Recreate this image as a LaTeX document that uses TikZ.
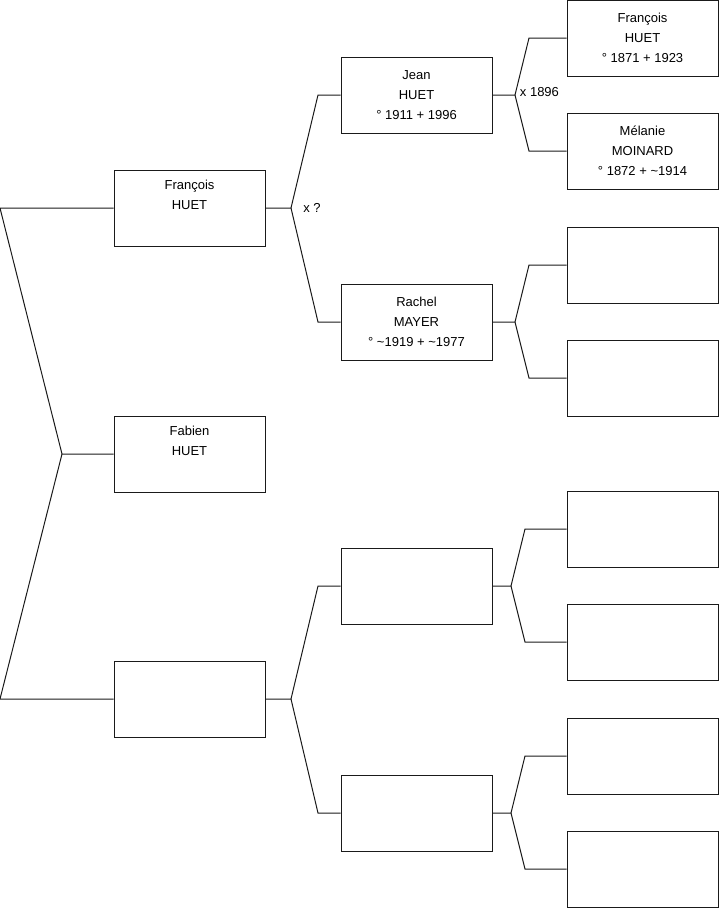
\documentclass[tikz,border=0pt]{standalone}
\usepackage{fontspec}
\setmainfont{Liberation Sans}
\usetikzlibrary{positioning}
\definecolor{TreeLine}{HTML}{1A1A1A}

\begin{document}
\begin{tikzpicture}[
  x=0.75pt,y=-0.75pt,
  person/.style={draw=TreeLine,line width=0.75pt,minimum width=113.25pt,
                 minimum height=57pt,inner sep=0pt,align=center,
                 font=\fontsize{9.75}{15}\selectfont},
  link/.style={draw=TreeLine,line width=0.75pt},
  union/.style={anchor=west,inner sep=0pt,font=\fontsize{9.75}{11}\selectfont}
]
  \useasboundingbox (0,0) rectangle (719,908);
  % generation 1
  \node[person] (francois) at (189.5,208) {François\\HUET\\\strut};
  \node[person] (fabien) at (189.5,454) {Fabien\\HUET\\\strut};
  \node[person] (mere) at (189.5,699) {};
  % generation 2
  \node[person] (jean) at (416.5,95) {Jean\\HUET\\° 1911 + 1996};
  \node[person] (rachel) at (416.5,322) {Rachel\\MAYER\\° \textasciitilde1919 + \textasciitilde1977};
  \node[person] (merepere) at (416.5,586) {};
  \node[person] (meremere) at (416.5,813) {};
  % generation 3
  \node[person] (francoissr) at (642.5,38) {François\\HUET\\° 1871 + 1923};
  \node[person] (melanie) at (642.5,151) {Mélanie\\MOINARD\\° 1872 + \textasciitilde1914};
  \node[person] (rachelpere) at (642.5,265) {};
  \node[person] (rachelmere) at (642.5,378) {};
  \node[person] (mpp) at (642.5,529) {};
  \node[person] (mpm) at (642.5,642) {};
  \node[person] (mmp) at (642.5,756) {};
  \node[person] (mmm) at (642.5,869) {};

  % siblings
  \draw[link] (francois.west) -- (0,208) -- (62,454) coordinate (sib) -- (fabien.west);
  \draw[link] (sib) -- (0,699) -- (mere.west);

  % parents
  \draw[link] (francois.east) -- (291,208) coordinate (u1) -- (318,95) -- (jean.west);
  \draw[link] (u1) -- (318,322) -- (rachel.west);
  \node[union] at ([xshift=9pt]u1) {x ?};
  \draw[link] (mere.east) -- (291,699) coordinate (u2) -- (318,586) -- (merepere.west);
  \draw[link] (u2) -- (318,813) -- (meremere.west);

  % grandparents
  \draw[link] (jean.east) -- (515,95) coordinate (u3) -- (529,38) -- (francoissr.west);
  \draw[link] (u3) -- (529,151) -- (melanie.west);
  \node[union] at ([xshift=3.5pt,yshift=2pt]u3) {x 1896};
  \draw[link] (rachel.east) -- (515,322) coordinate (u4) -- (529,265) -- (rachelpere.west);
  \draw[link] (u4) -- (529,378) -- (rachelmere.west);
  \draw[link] (merepere.east) -- (511,586) coordinate (u5) -- (525,529) -- (mpp.west);
  \draw[link] (u5) -- (525,642) -- (mpm.west);
  \draw[link] (meremere.east) -- (511,813) coordinate (u6) -- (525,756) -- (mmp.west);
  \draw[link] (u6) -- (525,869) -- (mmm.west);
\end{tikzpicture}
\end{document}
